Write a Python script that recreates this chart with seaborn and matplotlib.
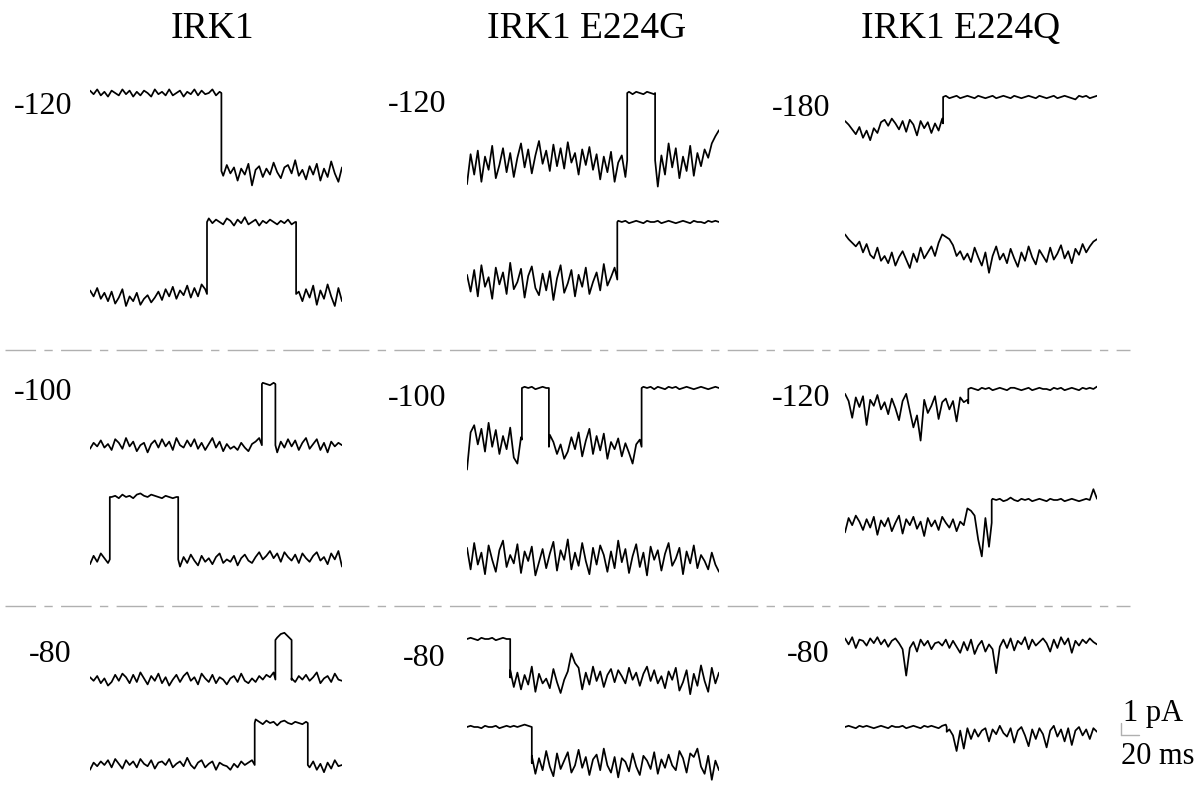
import numpy as np
import pandas as pd
import matplotlib.pyplot as plt
import seaborn as sns

sns.set_style("white")
plt.rcParams['font.family'] = ['Liberation Serif', 'DejaVu Serif']

# figure / scale settings (pixels)
W, H = 1204, 790
PX_PER_MS = 0.9
PX_PER_PA = 12
DT = 4          # ms between samples
T_MAX = 280     # ms shown per sweep
PA_LO, PA_HI = -10, 3

columns = ["IRK1", "IRK1 E224G", "IRK1 E224Q"]
voltages = [["-120", "-100", "-80"],
            ["-120", "-100", "-80"],
            ["-180", "-120", "-80"]]
scale_pa = 1
scale_ms = 20

# each sweep: steps = (end of segment in ms, level in pA), 0 = closed
# noise = deviation from the level every 4 ms, in 0.1 pA
# ---- IRK1 ----
wt_120_top_steps = [(146, 0.0), (280, -6.5)]
wt_120_top_noise = [2, -1, 3, -2, 1, -3, 2, 0, -2, 3, -1, 2, -3, 1, -2, 2, 0, -3, 3, -1,
                    1, -2, 3, -2, 0, 2, -3, 1, -1, 3, -2, 2, -1, 0, 3, -2, 1,
                    -4, 5, -2, 3, -8, 2, -3, 6, -12, 1, 4, -5, 2, -3, 7, -1, -6, 3, 5, -2,
                    9, -4, 1, -7, 4, -3, 6, -8, 2, -5, 8, -2, -9, 3]
wt_120_bot_steps = [(130, -6.0), (229, 0.0), (280, -6.0)]
wt_120_bot_noise = [3, -2, 5, -4, 1, -6, 2, -8, -3, 4, -10, -2, -6, 1, -9, -4, -1, -7, -3, 2,
                    -5, 4, -2, 6, -4, 3, -1, 7, -3, 5, -2, 8, 4,
                    3, -1, 2, 0, -2, 3, 1, -3, 2, -1, 4, -2, 0, 2, -3, 1, -1, 2, 0, -2,
                    1, -1, 2, -2, 0,
                    2, -6, 4, -3, 7, -9, 3, -4, 8, -2, -10, 5, -6]
wt_100_top_steps = [(191, -5.1), (206, 0.0), (280, -5.1)]
wt_100_top_noise = [-3, 2, -1, 4, -2, 1, -4, 5, 2, -3, 6, -1, 3, -5, 0, 2, -6, 1, 4, -2,
                    5, -1, 3, -4, 6, 0, -2, 4, -1, 5, -3, 2, -4, 1, 6, -2, 3, -5, 1, -3,
                    -1, -4, 2, -2, -5, 1, 3, 6,
                    1, 0, -1, 1,
                    -6, 3, -2, 5, -1, 4, -4, 2, 6, -3, 1, 5, -4, 2, -6, 3, -1, 2, 0]
wt_100_bot_steps = [(22, -5.2), (98, 0.0), (280, -5.2)]
wt_100_bot_noise = [-4, 3, -2, 5, 1, -3,
                    0, 1, -1, 2, 0, 1, -1, 2, 3, 1, 0, 2, 1, 0, -1, 1, 0, -1, 0,
                    -6, 2, -3, 4, -1, -5, 3, -2, 1, -4, 2, 5, -3, 0, -2, 3, -5, 1, 4, -1,
                    -3, 2, 6, 0, 3, 7, 1, 5, -2, 6, 2, -1, 4, -3, 5, 1, -2, 3, 6, -1,
                    2, -4, 5, 0, 7, -6]
wt_80_top_steps = [(206, -3.3), (224, 0.0), (280, -3.3)]
wt_80_top_noise = [2, -1, 3, -3, 1, -5, -2, 4, -1, 5, 2, -3, 4, -2, 6, 1, -4, 3, -1, 5,
                   -3, 2, -5, 0, 4, -2, 3, 6, -1, 2, -4, 5, 1, -2, 4, -3, 2, 0, -4, 1,
                   3, -2, 5, -1, -3, 1, -2, 3, 0, 4, 2, 6,
                   2, 5, 6, 3,
                   1, -2, 3, 0, 4, -1, 2, 6, -3, 1, 3, -2, 5, 0, -1]
wt_80_bot_steps = [(183, -3.5), (242, 0.0), (280, -3.5)]
wt_80_bot_noise = [-4, 2, -1, 3, 0, 4, -2, 5, 1, -3, 4, 0, 3, -2, 5, 1, -1, 4, -3, 2,
                   3, 0, 5, -2, 1, 3, -1, 6, 0, -3, 2, 4, -2, 1, 3, -4, 2, 0, -1, -4,
                   1, -2, 3, 0, 2, 4,
                   3, 1, -1, 2, 0, 1, -2, 1, 2, 0, -1, 1, 0, -1, 1,
                   -2, 3, -4, 1, -6, 2, -3, 4, -1, 0]

# ---- IRK1 E224G ----
g_120_top_steps = [(178, -5.6), (209, 0.0), (280, -5.6)]
g_120_top_noise = [-20, 5, -12, 8, -18, 3, -8, 12, -15, -4, 10, -10, 6, -14, 2, 14, -6, 9, -11, 4,
                   16, -3, 8, -9, 13, -5, 10, -7, 15, -2, 6, -12, 9, -4, 11, -8, 5, -16, 3, -10,
                   7, -18, -2, 4, -14,
                   1, -1, 1, 0, -1, 1, 0, -1,
                   -22, 4, -12, 14, -6, 10, -15, 3, -9, 12, -13, 6, -5, 9, 2, 14, 20, 25]
g_120_bot_steps = [(167, -4.8), (280, 0.0)]
g_120_bot_noise = [4, -10, 8, -14, 12, -6, 2, -16, 10, -4, 6, -12, 14, -8, -2, 9, -15, 3, 11, -7,
                   -13, 5, -9, 7, -17, 1, 12, -11, -3, 8, -14, 4, -6, 10, -12, -2, 6, -9, 13, -5,
                   2, 10,
                   1, 0, 1, -1, 0, 1, 0, -1, 1, 0, 0, 1, -1, 0, 1, 0, -1, 0, 1, 0,
                   -1, 1, 0, 0, -1, 1, 0, 1, 0]
g_100_top_steps = [(61, -4.3), (91, 0.0), (194, -4.9), (280, 0.0)]
g_100_top_noise = [-25, 6, 12, -4, 9, -10, 14, -6, 8, -12, 3, -8, 10, -15, -20, 2,
                   1, 0, 1, -1, 0, 1, 0,
                   10, 4, -6, 2, -10, -4, 8, -2, 12, -8, 5, 15, -6, 9, -3, 11, -10, 4, -2, 7,
                   -8, 3, -5, -14, 2, 6,
                   1, 0, 1, -1, 1, 0, -1, 1, 0, 1, -1, 0, 1, 0, -1, 0, 1, 0, -1, 0, 1, 0]
g_100_bot_steps = [(280, -4.7)]
g_100_bot_noise = [8, -10, 12, -6, 4, -14, 10, -2, -12, 6, 14, -8, 2, -5, 11, -13, 5, -3, 9, -15,
                   -4, 7, -9, 3, 13, -11, 6, -2, 15, -10, 4, -7, 12, -3, -14, 8, -6, 10, 2, -12,
                   5, -9, 14, -4, 7, -13, 1, 11, -8, 4, -15, 9, -2, 6, -11, 3, 12, -7, -1, 8,
                   -14, 5, -5, 10, -9, 2, -3, -10, 4, -6, -12]
g_80_top_steps = [(48, 0.0), (280, -3.2)]
g_80_top_noise = [0, 1, 0, -1, 1, 0, 0, 1, -1, 0, 1, 0,
                  6, -8, 4, -10, 2, -6, 9, -12, 3, -5, -1, -9, 7, -4, -13, -2, 5, 20, 12, 8,
                  -10, 4, -6, 9, -3, 5, -8, 2, 7, -4, 6, 1, -5, 8, -2, 4, -7, 3, 9, -3,
                  6, -5, 1, -9, 5, -2, 8, -11, -4, 6, -14, 3, -7, 10, -3, -12, 8, -5, 4]
g_80_bot_steps = [(72, 0.0), (280, -3.0)]
g_80_bot_noise = [0, 1, 0, 0, -1, 1, 0, 0, 1, -1, 0, 1, 0, 1, 0, 1, 2, 1,
                  6, -9, 4, -6, 10, -3, -11, 8, -5, 2, 9, -8, -2, 11, -4, 5, -10, 3, 7, -6,
                  12, -2, -8, 5, -12, 4, 1, -7, 8, -3, -10, 6, 2, -5, 9, -9, 3, -4, 7, -2,
                  -6, 10, 4, -8, 8, 5, 12, -3, -9, 6, -14, 2, -6]

# ---- IRK1 E224Q ----
q_180_top_steps = [(109, -2.2), (280, 0.0)]
q_180_top_noise = [2, -1, -5, -9, -3, -12, -6, -14, -4, -8, 1, 3, -2, 4, 0, -5, 2, -7, 3, -1,
                   -10, 2, -4, 1, -8, 0, -6, 4,
                   1, -1, 0, 1, -1, 0, 1, 0, -1, 1, 0, -1, 0, 1, -1, 0, 1, 0, -1, 1,
                   0, -1, 0, 1, 0, -1, 1, 0, -1, 0, 1, -1, 0, 1, 0, -1, -2, 1, 0, 1, -1, 0, 1]
q_180_bot_steps = [(280, -1.9)]
q_180_bot_noise = [12, 8, 5, 2, 6, -3, 4, -5, -8, 1, -10, -6, -12, -3, -14, -7, -2, -9, -16, -4,
                   -11, 1, -8, -3, 2, -6, 5, 12, 10, 8, 3, -6, -2, -9, -4, -11, 1, -7, -14, -3,
                   -20, -6, 2, -9, -4, -12, 0, -8, -15, -3, -10, 2, -7, -13, -1, -6, -11, 1, -9, -4,
                   3, -8, -2, -12, 0, -5, 4, -3, 2, 6, 8]
q_120_top_steps = [(137, -1.2), (280, 0.0)]
q_120_top_noise = [8, 2, -12, 5, -3, 6, -18, 3, -2, 7, -5, 1, -9, 4, -4, -14, 2, 8, -6, -20,
                   -10, -31, 3, -8, -2, 6, -13, 1, 4, -5, 2, -15, 5, 1, 3,
                   1, 0, -1, 1, 0, 1, -1, 0, 1, 0, -1, 1, 1, 0, -1, 0, 1, -1, 0, 1,
                   0, 0, -1, 1, 0, 1, -1, 0, 1, 0, -1, 1, 0, 1, 0, 2]
q_120_bot_steps = [(163, -1.9), (280, 0.0)]
q_120_bot_noise = [-8, 4, -2, 6, 1, -6, 3, -4, 5, -10, 2, -3, 4, -7, 0, 6, -9, 3, -2, 5,
                   -5, 1, -11, 4, -3, 2, -6, 5, 0, -4, 3, -7, 1, -2, 12, 10, 6, -14, -28, 4,
                   -20,
                   1, 0, 1, -1, 0, 2, 0, -1, 1, 0, 1, -1, 0, 1, 0, -1, 1, 0, 0, 1,
                   -1, 0, 1, 0, -1, 0, 1, 0, 9, 1]
q_80_top_steps = [(280, 0.0)]
q_80_top_noise = [3, -2, 4, -5, 2, 1, -3, 3, -1, 4, -2, 2, -4, 1, 3, -1, -6, -28, -5, 0,
                  -8, 2, -3, 1, -6, -1, 0, -3, 2, -5, 1, -4, -9, 0, -7, 2, -10, -3, 1, -8,
                  -2, -6, -26, -4, 2, -5, 3, -7, 1, -2, 4, -6, 2, -3, 0, 3, -1, -8, 2, -5,
                  4, -2, 3, -9, 1, -3, 2, -1, 3, 0, -2]
q_80_bot_steps = [(113, 0.0), (280, -0.4)]
q_80_bot_noise = [0, 1, 0, -1, 1, 0, 1, 0, -1, 0, 1, 0, -1, 1, 0, 0, 1, -1, 0, 1,
                  0, -1, 1, 0, 1, 0, -1, 1, 2,
                  2, -3, -16, 1, -14, 3, -6, 2, -4, 1, 3, -8, 2, -2, 5, -1, -4, 3, -9, 1,
                  4, -3, -12, 2, -6, 3, -2, -13, 1, 5, -4, 2, -8, 3, -11, 1, 4, -3, 2, -6,
                  3, 0]

# (column, section, sweep) -> data
sweeps = [
    (0, 0, 0, wt_120_top_steps, wt_120_top_noise), (0, 0, 1, wt_120_bot_steps, wt_120_bot_noise),
    (0, 1, 0, wt_100_top_steps, wt_100_top_noise), (0, 1, 1, wt_100_bot_steps, wt_100_bot_noise),
    (0, 2, 0, wt_80_top_steps, wt_80_top_noise), (0, 2, 1, wt_80_bot_steps, wt_80_bot_noise),
    (1, 0, 0, g_120_top_steps, g_120_top_noise), (1, 0, 1, g_120_bot_steps, g_120_bot_noise),
    (1, 1, 0, g_100_top_steps, g_100_top_noise), (1, 1, 1, g_100_bot_steps, g_100_bot_noise),
    (1, 2, 0, g_80_top_steps, g_80_top_noise), (1, 2, 1, g_80_bot_steps, g_80_bot_noise),
    (2, 0, 0, q_180_top_steps, q_180_top_noise), (2, 0, 1, q_180_bot_steps, q_180_bot_noise),
    (2, 1, 0, q_120_top_steps, q_120_top_noise), (2, 1, 1, q_120_bot_steps, q_120_bot_noise),
    (2, 2, 0, q_80_top_steps, q_80_top_noise), (2, 2, 1, q_80_bot_steps, q_80_bot_noise),
]

# layout (pixels)
col_x0 = [90, 467, 845]
zero_y = [[(93, 222), (384, 497), (640, 723)],
          [(93, 222), (388, 501), (639, 727)],
          [(97, 226), (389, 500), (642, 727)]]
title_x = [212, 587, 961]
label_right = [72, 446, 830]
label_y = [[107, 393, 655], [105, 398, 658], [108, 398, 655]]


def build_sweep(steps, noise):
    t = np.arange(len(noise)) * DT
    ends = np.array([e for e, _ in steps])
    levels = np.array([lv for _, lv in steps])
    seg = np.clip(np.searchsorted(ends, t, side='right'), 0, len(steps) - 1)
    y = levels[seg] + np.array(noise) / 10
    xs, ys = [], []
    for i in range(len(t)):
        if i > 0 and seg[i] != seg[i - 1]:
            tc = ends[seg[i - 1]]
            xs += [tc, tc]
            ys += [levels[seg[i - 1]], levels[seg[i]]]
        xs.append(t[i])
        ys.append(y[i])
    return pd.DataFrame({'ms': xs, 'pA': ys})


def sweep_axes(fig, x0, y0):
    left = x0 / W
    width = T_MAX * PX_PER_MS / W
    bottom = 1 - (y0 - PA_LO * PX_PER_PA) / H
    height = (PA_HI - PA_LO) * PX_PER_PA / H
    ax = fig.add_axes([left, bottom, width, height])
    ax.set_xlim(0, T_MAX)
    ax.set_ylim(PA_LO, PA_HI)
    ax.axis('off')
    return ax


fig = plt.figure(figsize=(W / 100, H / 100), dpi=100)

last_ax = None
for col, sec, row, steps, noise in sweeps:
    ax = sweep_axes(fig, col_x0[col], zero_y[col][sec][row])
    df = build_sweep(steps, noise)
    sns.lineplot(data=df, x='ms', y='pA', ax=ax, color='black', lw=1.25,
                 sort=False, estimator=None)
    ax.set_xlim(0, T_MAX)
    ax.set_ylim(PA_LO, PA_HI)
    ax.axis('off')
    last_ax = ax

# titles and voltage labels
for c, name in enumerate(columns):
    fig.text(title_x[c] / W, 1 - 29 / H, name, ha='center', va='center', fontsize=27,
             color='black')
    for s in range(3):
        fig.text(label_right[c] / W, 1 - label_y[c][s] / H, voltages[c][s],
                 ha='right', va='center', fontsize=23, color='black')

# dashed separators between voltage groups
bg = fig.add_axes([0, 0, 1, 1], zorder=-1)
bg.set_xlim(0, W)
bg.set_ylim(H, 0)
bg.axis('off')
for yy in [350, 606]:
    bg.plot([5, 1130], [yy, yy], color='#b0b0b0', lw=1.0, ls=(0, (22, 6, 6, 6)))

# scale bar, drawn in the units of the last sweep
bar_t = (1121 - col_x0[2]) / PX_PER_MS
bar_p = -0.67
last_ax.plot([bar_t, bar_t], [bar_p, bar_p + scale_pa], color='#b0b0b0', lw=1, clip_on=False)
last_ax.plot([bar_t, bar_t + scale_ms], [bar_p, bar_p], color='#b0b0b0', lw=1, clip_on=False)
fig.text(1123 / W, 1 - 714 / H, "1 pA", ha='left', va='center', fontsize=22, color='black')
fig.text(1121 / W, 1 - 756 / H, "20 ms", ha='left', va='center', fontsize=22, color='black')

fig.savefig('out.png', dpi=100)
